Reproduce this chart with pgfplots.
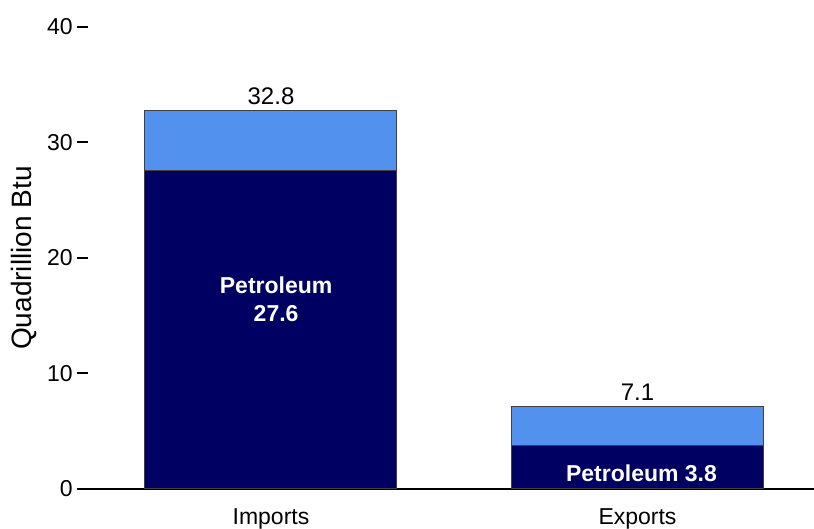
\documentclass[border=0pt]{standalone}
\usepackage{fontspec}
\setmainfont{Liberation Sans}
\usepackage{pgfplots}
\pgfplotsset{compat=1.18}
\definecolor{petro}{RGB}{0,0,99}
\definecolor{other}{RGB}{82,145,238}
\definecolor{edge}{RGB}{64,64,64}
\begin{document}
\begin{tikzpicture}
\begin{axis}[
    scale only axis,
    width=363pt, height=231pt,
    ybar stacked,
    bar width=126pt,
    xmin=-0.4993, xmax=1.4816,
    ymin=0, ymax=40,
    ytick={0,10,20,30,40},
    xtick={0,1},
    xticklabels={Imports,Exports},
    axis x line=bottom,
    axis y line=left,
    x axis line style={-, line width=1pt, black},
    y axis line style={draw=none},
    major x tick style={draw=none},
    major y tick style={line width=1pt, black},
    tick align=outside,
    major tick length=5.5pt,
    /pgf/number format/assume math mode=true,
    tick label style={font=\fontsize{11.5}{13}\selectfont},
    yticklabel style={inner xsep=2pt},
    xticklabel style={anchor=base, yshift=-12.5pt, inner sep=0pt},
    ylabel={Quadrillion Btu},
    every axis y label/.style={at={(axis description cs:-0.0882,0.5)}, anchor=center, rotate=90, font=\fontsize{14}{16}\selectfont},
    clip=false,
]
\addplot[fill=petro, draw=edge, line width=0.5pt] coordinates {(0,27.6) (1,3.8)};
\addplot[fill=other, draw=edge, line width=0.5pt] coordinates {(0,5.2) (1,3.3)};
\coordinate (t1) at (axis cs:0,32.8);
\coordinate (t2) at (axis cs:1,7.1);
\coordinate (p1) at (axis cs:0.014,16.45);
\coordinate (p2) at (axis cs:1.011,1.39);
\end{axis}
\node[anchor=base, inner sep=0pt, font=\fontsize{12}{14}\selectfont] at ([yshift=3pt]t1) {32.8};
\node[anchor=base, inner sep=0pt, font=\fontsize{12}{14}\selectfont] at ([yshift=3pt]t2) {7.1};
\node[font=\bfseries\fontsize{11.5}{14}\selectfont, text=white, align=center] at (p1) {Petroleum\\27.6};
\node[font=\bfseries\fontsize{11.5}{14}\selectfont, text=white] at (p2) {Petroleum 3.8};
\pgfresetboundingbox
\useasboundingbox ([xshift=-44pt,yshift=-20pt]current axis.south west) rectangle ([yshift=13.5pt]current axis.north east);
\end{tikzpicture}
\end{document}
